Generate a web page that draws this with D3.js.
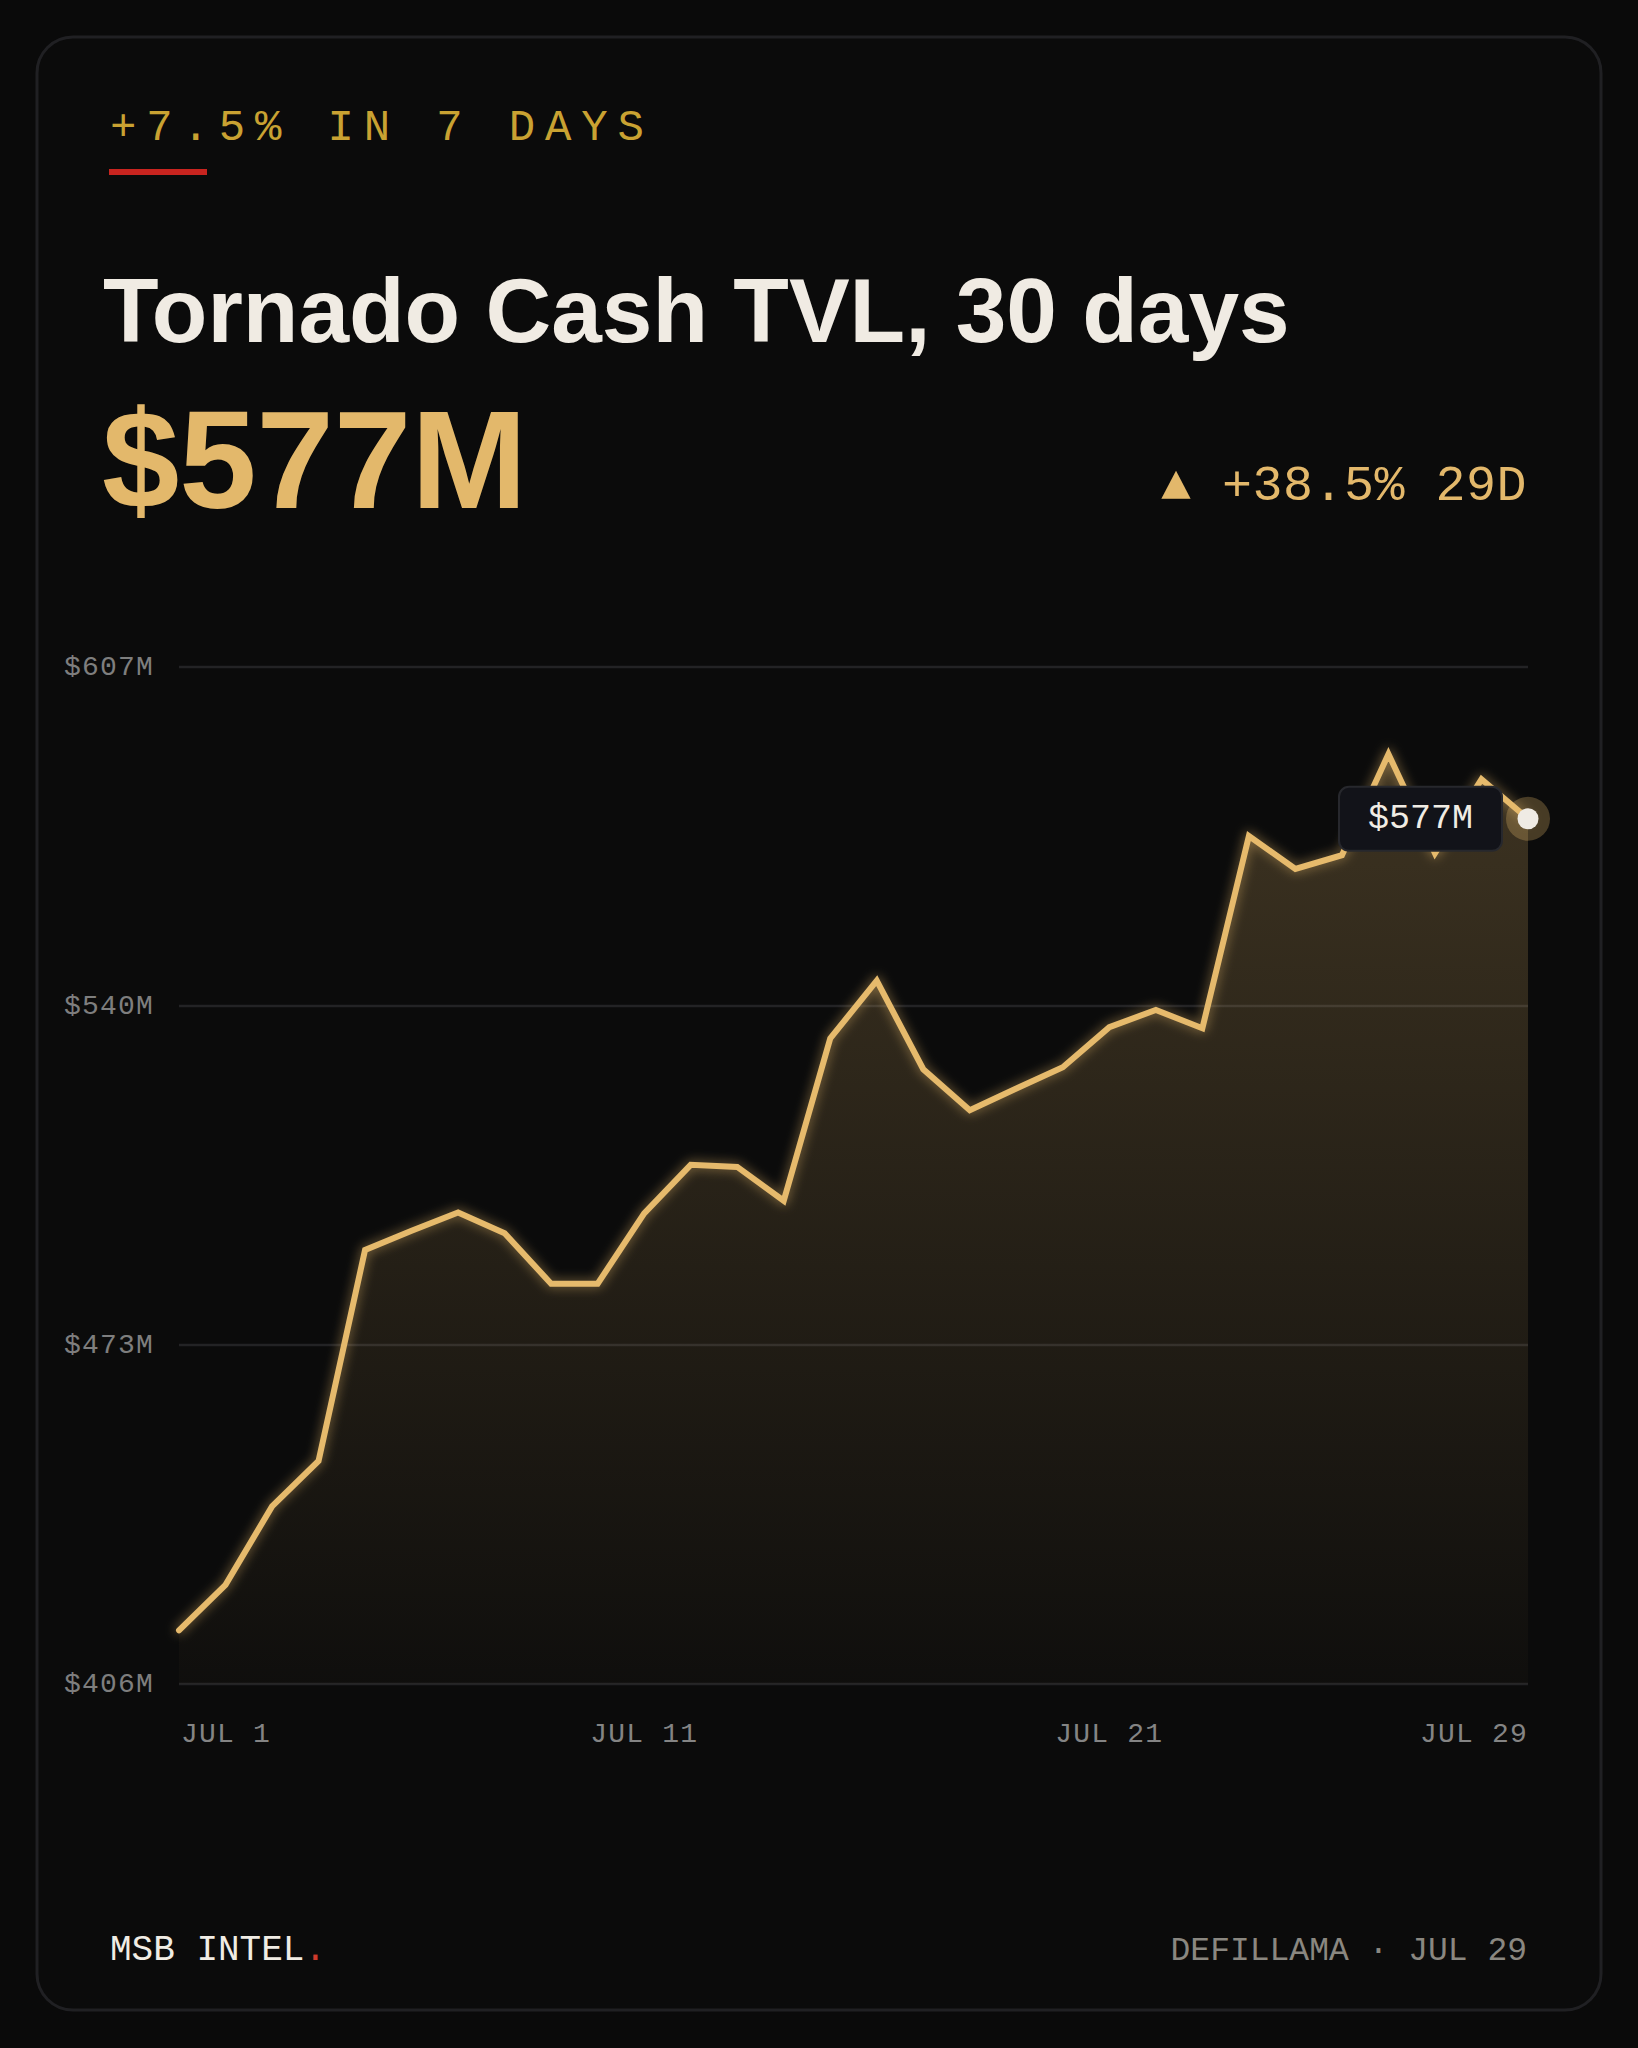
<!DOCTYPE html>
<html>
<head>
<meta charset="utf-8">
<script src="https://cdn.jsdelivr.net/npm/d3@7/dist/d3.min.js"></script>
<style>
  html, body { margin: 0; padding: 0; background: #0a0a0a; }
  svg { display: block; }
</style>
</head>
<body>
<script>
// ---- data ----
const dayIndex = d3.range(30);
const tvlValues = [416.6, 425.6, 441.1, 450.1, 491.8, 495.6, 499.2, 495.1, 485.1, 485.1,
                   499.0, 508.6, 508.2, 501.5, 533.6, 545.0, 527.5, 519.4, 523.7, 527.9,
                   535.8, 539.2, 535.6, 573.6, 567.1, 569.8, 589.8, 570.2, 584.8, 577.0];
const yTickValues = [406, 473, 540, 607];
const xTickIndex = [0, 10, 20, 29];
const xTickLabels = ["JUL 1", "JUL 11", "JUL 21", "JUL 29"];
const kicker = "+7.5% IN 7 DAYS";
const title = "Tornado Cash TVL, 30 days";
const bigValue = "$577M";
const change = "▲ +38.5% 29D";
const tooltipLabel = "$577M";
const brand = "MSB INTEL";
const source = "DEFILLAMA · JUL 29";

const W = 1638, H = 2048;
const GOLD = "#e6ba6c";
const MONO = "'Liberation Mono', 'DejaVu Sans Mono', monospace";
const SANS = "'Liberation Sans', Arial, sans-serif";

const svg = d3.select("body").append("svg").attr("width", W).attr("height", H);
const defs = svg.append("defs");

const grad = defs.append("linearGradient").attr("id", "areaGrad")
  .attr("x1", 0).attr("y1", 0).attr("x2", 0).attr("y2", 1);
grad.append("stop").attr("offset", "0%").attr("stop-color", GOLD).attr("stop-opacity", 0.23);
grad.append("stop").attr("offset", "100%").attr("stop-color", GOLD).attr("stop-opacity", 0.02);

const glow = defs.append("filter").attr("id", "glow")
  .attr("x", "-10%").attr("y", "-10%").attr("width", "120%").attr("height", "120%");
glow.append("feGaussianBlur").attr("in", "SourceGraphic").attr("stdDeviation", 6).attr("result", "b");
glow.append("feComponentTransfer").attr("in", "b").attr("result", "b2")
  .append("feFuncA").attr("type", "linear").attr("slope", 0.6);
const mg = glow.append("feMerge");
mg.append("feMergeNode").attr("in", "b2");
mg.append("feMergeNode").attr("in", "SourceGraphic");

// background & card
svg.append("rect").attr("width", W).attr("height", H).attr("fill", "#0a0a0a");
svg.append("rect").attr("x", 37).attr("y", 37).attr("width", 1564).attr("height", 1973)
  .attr("rx", 36).attr("fill", "#0b0b0b").attr("stroke", "#202023").attr("stroke-width", 3);

// header
svg.append("text").attr("x", 110).attr("y", 140).text(kicker)
  .attr("font-family", MONO).attr("font-size", 44).attr("letter-spacing", 9.85)
  .attr("fill", "#c9a232");
svg.append("rect").attr("x", 109).attr("y", 169).attr("width", 98).attr("height", 6).attr("fill", "#c8241f");

svg.append("text").attr("x", 103).attr("y", 342).text(title)
  .attr("font-family", SANS).attr("font-weight", 700).attr("font-size", 91)
  .attr("letter-spacing", 0).attr("fill", "#f0ebe3");

svg.append("text").attr("x", 102).attr("y", 508).text(bigValue)
  .attr("font-family", SANS).attr("font-weight", 700).attr("font-size", 139)
  .attr("letter-spacing", 0).attr("fill", "#e3b86b");

svg.append("text").attr("x", 1527).attr("y", 500).attr("text-anchor", "end").text(change)
  .attr("font-family", MONO).attr("font-size", 50).attr("letter-spacing", 0.5)
  .attr("fill", "#e3b86b");

// scales
const x = d3.scaleLinear().domain([0, 29]).range([179, 1528]);
const y = d3.scaleLinear().domain([406, 607]).range([1684, 667]);

// grid
const grid = svg.append("g");
grid.selectAll("line").data(yTickValues).join("line")
  .attr("x1", x(0)).attr("x2", x(29))
  .attr("y1", d => y(d)).attr("y2", d => y(d))
  .attr("stroke", "#232325").attr("stroke-width", 2.5);
grid.selectAll("text").data(yTickValues).join("text")
  .attr("x", 154).attr("y", d => y(d)).attr("text-anchor", "end")
  .attr("dominant-baseline", "central")
  .text(d => "$" + d + "M")
  .attr("font-family", MONO).attr("font-size", 28).attr("letter-spacing", 1.2)
  .attr("fill", "#7e7e7e");

// area + line
const pts = dayIndex.map(i => [i, tvlValues[i]]);
const area = d3.area().x(d => x(d[0])).y0(y(406)).y1(d => y(d[1]));
const line = d3.line().x(d => x(d[0])).y(d => y(d[1]));

svg.append("path").datum(pts).attr("d", area).attr("fill", "url(#areaGrad)");
svg.append("path").datum(pts).attr("d", line)
  .attr("fill", "none").attr("stroke", GOLD).attr("stroke-width", 6)
  .attr("stroke-linejoin", "miter").attr("stroke-linecap", "round")
  .attr("filter", "url(#glow)");

// x labels
svg.append("g").selectAll("text").data(xTickIndex).join("text")
  .attr("x", (d, i) => i === 0 ? x(d) + 2 : x(d))
  .attr("y", 1742)
  .attr("text-anchor", (d, i) => i === 0 ? "start" : (i === xTickIndex.length - 1 ? "end" : "middle"))
  .text((d, i) => xTickLabels[i])
  .attr("font-family", MONO).attr("font-size", 28).attr("letter-spacing", 1.2)
  .attr("fill", "#848484");

// end marker + tooltip
const last = pts[pts.length - 1];
const lx = x(last[0]), ly = y(last[1]);
svg.append("circle").attr("cx", lx).attr("cy", ly).attr("r", 22)
  .attr("fill", GOLD).attr("fill-opacity", 0.28);
svg.append("circle").attr("cx", lx).attr("cy", ly).attr("r", 10.5).attr("fill", "#efebe4");

const tipW = 163, tipH = 64;
svg.append("rect").attr("x", lx - 26 - tipW).attr("y", ly - tipH / 2)
  .attr("width", tipW).attr("height", tipH).attr("rx", 10)
  .attr("fill", "#121319").attr("stroke", "#27282d").attr("stroke-width", 2);
svg.append("text").attr("x", lx - 26 - tipW / 2).attr("y", ly)
  .attr("text-anchor", "middle").attr("dominant-baseline", "central")
  .text(tooltipLabel)
  .attr("font-family", MONO).attr("font-size", 35).attr("fill", "#f0ece4");

// footer
const ft = svg.append("text").attr("x", 110).attr("y", 1960)
  .attr("font-family", MONO).attr("font-size", 36).attr("fill", "#f0ece4");
ft.append("tspan").text(brand);
ft.append("tspan").text(".").attr("fill", "#cf3a2c");

svg.append("text").attr("x", 1527).attr("y", 1960).attr("text-anchor", "end")
  .text(source)
  .attr("font-family", MONO).attr("font-size", 33).attr("fill", "#8a8780");
</script>
</body>
</html>
